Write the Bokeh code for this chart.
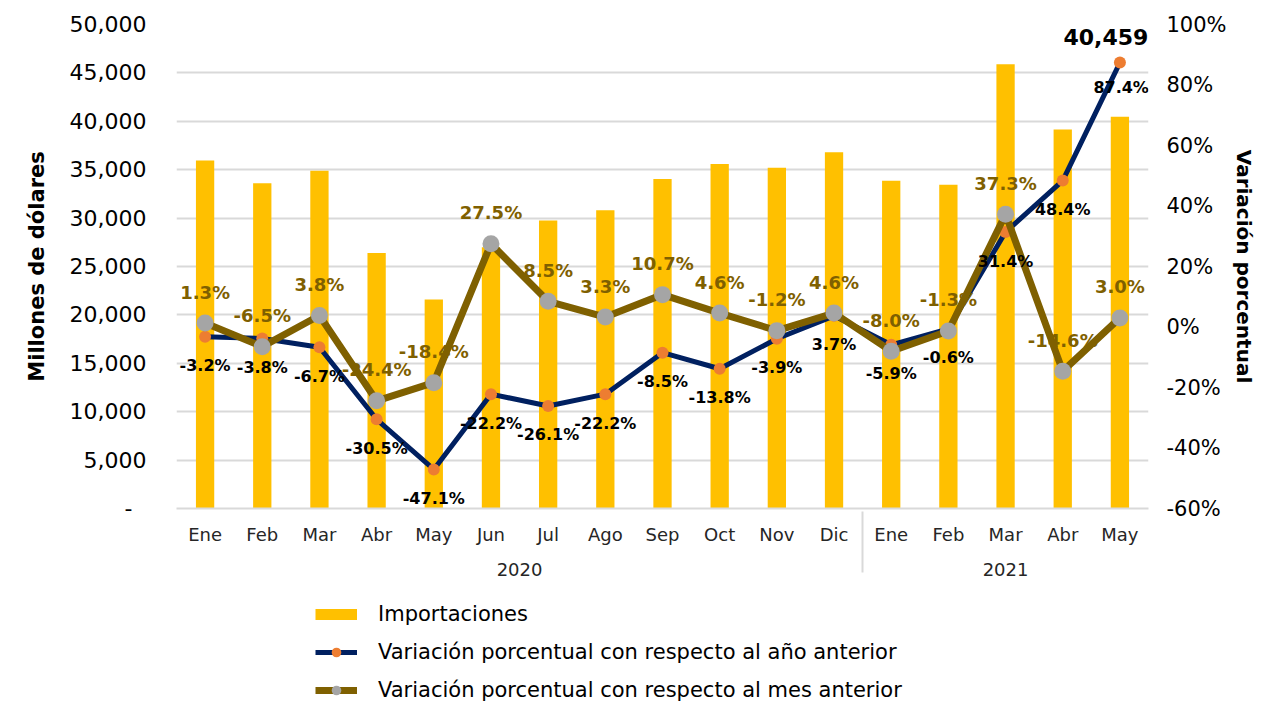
from bokeh.plotting import figure
from bokeh.layouts import column
from bokeh.models import (FactorRange, Range1d, LinearAxis, ColumnDataSource, LabelSet,
                          FixedTicker, NumeralTickFormatter, PrintfTickFormatter, Legend, LegendItem)
from bokeh.core.properties import value
from bokeh.embed import file_html
from bokeh.resources import INLINE

# ---------------- data ----------------
years = ["2020"] * 12 + ["2021"] * 5
months = ["Ene", "Feb", "Mar", "Abr", "May", "Jun", "Jul", "Ago", "Sep", "Oct", "Nov", "Dic",
          "Ene", "Feb", "Mar", "Abr", "May"]
importaciones = [35950, 33600, 34900, 26400, 21600, 27000, 29750, 30800, 34050, 35600, 35200, 36800,
                 33850, 33450, 45900, 39150, 40459]
var_anual = [-3.2, -3.8, -6.7, -30.5, -47.1, -22.2, -26.1, -22.2, -8.5, -13.8, -3.9, 3.7,
             -5.9, -0.6, 31.4, 48.4, 87.4]
var_mensual = [1.3, -6.5, 3.8, -24.4, -18.4, 27.5, 8.5, 3.3, 10.7, 4.6, -1.2, 4.6,
               -8.0, -1.3, 37.3, -14.6, 3.0]
left_ticks = list(range(0, 50001, 5000))
right_ticks = list(range(-60, 101, 20))
serie_bar = "Importaciones"
serie_anual = "Variación porcentual con respecto al año anterior"
serie_mensual = "Variación porcentual con respecto al mes anterior"

FONT = "DejaVu Sans"
GRID = "#D9D9D9"
C_BAR, C_ANUAL, C_ANUAL_M, C_MES, C_MES_M = "#FFC000", "#002060", "#ED7D31", "#7F6000", "#A5A5A5"

factors = list(zip(years, months))

src = ColumnDataSource(dict(
    x=factors, imp=importaciones, anual=var_anual, mensual=var_mensual,
    mensual_txt=[f"{v:.1f}%" for v in var_mensual],
))
src_anual_main = ColumnDataSource(dict(x=factors[:-1], y=var_anual[:-1],
                                       t=[f"{v:.1f}%" for v in var_anual[:-1]]))
src_anual_last = ColumnDataSource(dict(x=factors[-1:], y=var_anual[-1:],
                                       t=[f"{v:.1f}%" for v in var_anual[-1:]]))
src_bar_last = ColumnDataSource(dict(x=factors[-1:], y=importaciones[-1:],
                                     t=[f"{v:,}" for v in importaciones[-1:]]))


def frange():
    return FactorRange(factors=factors, factor_padding=0, group_padding=0,
                       subgroup_padding=0, range_padding=0)


p = figure(x_range=frange(), y_range=Range1d(0, 50000),
           width=1258, height=588, output_backend="svg", toolbar_location=None,
           min_border_left=176, min_border_right=107, min_border_top=24, min_border_bottom=80)
p.extra_y_ranges = {"pct": Range1d(-60, 100)}
p.outline_line_color = None
p.background_fill_color = "white"
p.border_fill_color = "white"

# grid
p.xgrid.visible = False
p.ygrid.ticker = FixedTicker(ticks=left_ticks)
p.ygrid.grid_line_color = GRID
p.ygrid.grid_line_width = 2

# left axis
ya = p.yaxis[0]
ya.ticker = FixedTicker(ticks=left_ticks)
ya.formatter = NumeralTickFormatter(format="0,0")
ya.major_label_overrides = {0: "-\u00a0\u00a0"}
ya.axis_line_color = None
ya.major_tick_line_color = None
ya.minor_tick_line_color = None
ya.major_tick_out = 0
ya.major_label_standoff = 30
ya.major_label_text_font = FONT
ya.major_label_text_font_size = "22px"
ya.major_label_text_color = "#000000"
ya.axis_label = "Millones de dólares"
ya.axis_label_text_font = FONT
ya.axis_label_text_font_style = "bold"
ya.axis_label_text_font_size = "21px"
ya.axis_label_text_color = "#000000"
ya.axis_label_standoff = 18

# right axis
ra = LinearAxis(y_range_name="pct", ticker=FixedTicker(ticks=right_ticks),
                formatter=PrintfTickFormatter(format="%d%%"))
ra.axis_line_color = None
ra.major_tick_line_color = None
ra.minor_tick_line_color = None
ra.major_tick_out = 0
ra.major_label_standoff = 18
ra.major_label_text_font = FONT
ra.major_label_text_font_size = "21px"
ra.major_label_text_color = "#000000"
ra.axis_label = "Variación porcentual"
ra.axis_label_text_font = FONT
ra.axis_label_text_font_style = "bold"
ra.axis_label_text_font_size = "20px"
ra.axis_label_text_color = "#000000"
ra.axis_label_standoff = 2
p.add_layout(ra, "right")

# category axis
xa = p.xaxis[0]
xa.axis_line_color = GRID
xa.axis_line_width = 2
xa.major_tick_line_color = None
xa.major_tick_out = 0
xa.major_label_standoff = 15
xa.major_label_text_font = FONT
xa.major_label_text_font_size = "18px"
xa.major_label_text_color = "#262626"
xa.group_text_font = FONT
xa.group_text_font_size = "18px"
xa.group_text_font_style = "normal"
xa.group_text_color = "#262626"
xa.separator_line_color = GRID
xa.separator_line_width = 2

# glyphs
p.vbar(x="x", top="imp", width=0.32, source=src, fill_color=C_BAR, line_color=None)
p.line("x", "anual", y_range_name="pct", source=src, line_color=C_ANUAL, line_width=5,
       line_join="round")
p.scatter("x", "anual", y_range_name="pct", source=src, size=12, fill_color=C_ANUAL_M,
          line_color=None)
p.line("x", "mensual", y_range_name="pct", source=src, line_color=C_MES, line_width=7,
       line_join="round")
p.scatter("x", "mensual", y_range_name="pct", source=src, size=17, fill_color=C_MES_M,
          line_color=None)

# labels
p.add_layout(LabelSet(x="x", y="mensual", text="mensual_txt", source=src, y_range_name="pct",
                      y_offset=31, text_align="center", text_baseline="middle",
                      text_font=value(FONT), text_font_style="bold", text_font_size="18px",
                      text_color=C_MES))
p.add_layout(LabelSet(x="x", y="y", text="t", source=src_anual_main, y_range_name="pct",
                      y_offset=-29, text_align="center", text_baseline="middle",
                      text_font=value(FONT), text_font_style="bold", text_font_size="16px",
                      text_color="#000000"))
p.add_layout(LabelSet(x="x", y="y", text="t", source=src_anual_last, y_range_name="pct",
                      x_offset=29, y_offset=-25, text_align="right", text_baseline="middle",
                      text_font=value(FONT), text_font_style="bold", text_font_size="16px",
                      text_color="#000000"))
p.add_layout(LabelSet(x="x", y="y", text="t", source=src_bar_last,
                      x_offset=-14, y_offset=80, text_align="center", text_baseline="middle",
                      text_font=value(FONT), text_font_style="bold", text_font_size="22px",
                      text_color="#000000"))

# ---------------- legend strip (keys only, series hidden) ----------------
q = figure(x_range=frange(), y_range=Range1d(0, 50000),
           width=1258, height=114, output_backend="svg", toolbar_location=None,
           x_axis_location=None, y_axis_location=None,
           min_border_left=0, min_border_right=0, min_border_top=0, min_border_bottom=0)
q.extra_y_ranges = {"pct": Range1d(-60, 100)}
q.outline_line_color = None
q.grid.visible = False
q.background_fill_color = "white"
q.border_fill_color = "white"
k0 = q.line("x", "imp", source=src, line_color=C_BAR, line_width=11, line_cap="butt", visible=False)
k1 = q.line("x", "anual", y_range_name="pct", source=src, line_color=C_ANUAL, line_width=5,
            visible=False)
k1m = q.scatter("x", "anual", y_range_name="pct", source=src, size=12, fill_color=C_ANUAL_M,
                line_color=None, visible=False)
k2 = q.line("x", "mensual", y_range_name="pct", source=src, line_color=C_MES, line_width=7,
            visible=False)
k2m = q.scatter("x", "mensual", y_range_name="pct", source=src, size=17, fill_color=C_MES_M,
                line_color=None, visible=False)

legend = Legend(items=[
    LegendItem(label=serie_bar, renderers=[k0]),
    LegendItem(label=serie_anual, renderers=[k1, k1m]),
    LegendItem(label=serie_mensual, renderers=[k2, k2m]),
], location=(139, 0), orientation="vertical", click_policy="none")
legend.border_line_color = None
legend.background_fill_alpha = 0
legend.inactive_fill_alpha = 0
legend.label_text_font = FONT
legend.label_text_font_size = "21px"
legend.label_text_color = "#000000"
legend.glyph_width = 42
legend.glyph_height = 24
legend.label_height = 24
legend.spacing = 14
legend.label_standoff = 21
legend.padding = 0
legend.margin = 0
q.add_layout(legend)

open("out.html", "w").write(file_html(column(p, q, spacing=0), INLINE))
